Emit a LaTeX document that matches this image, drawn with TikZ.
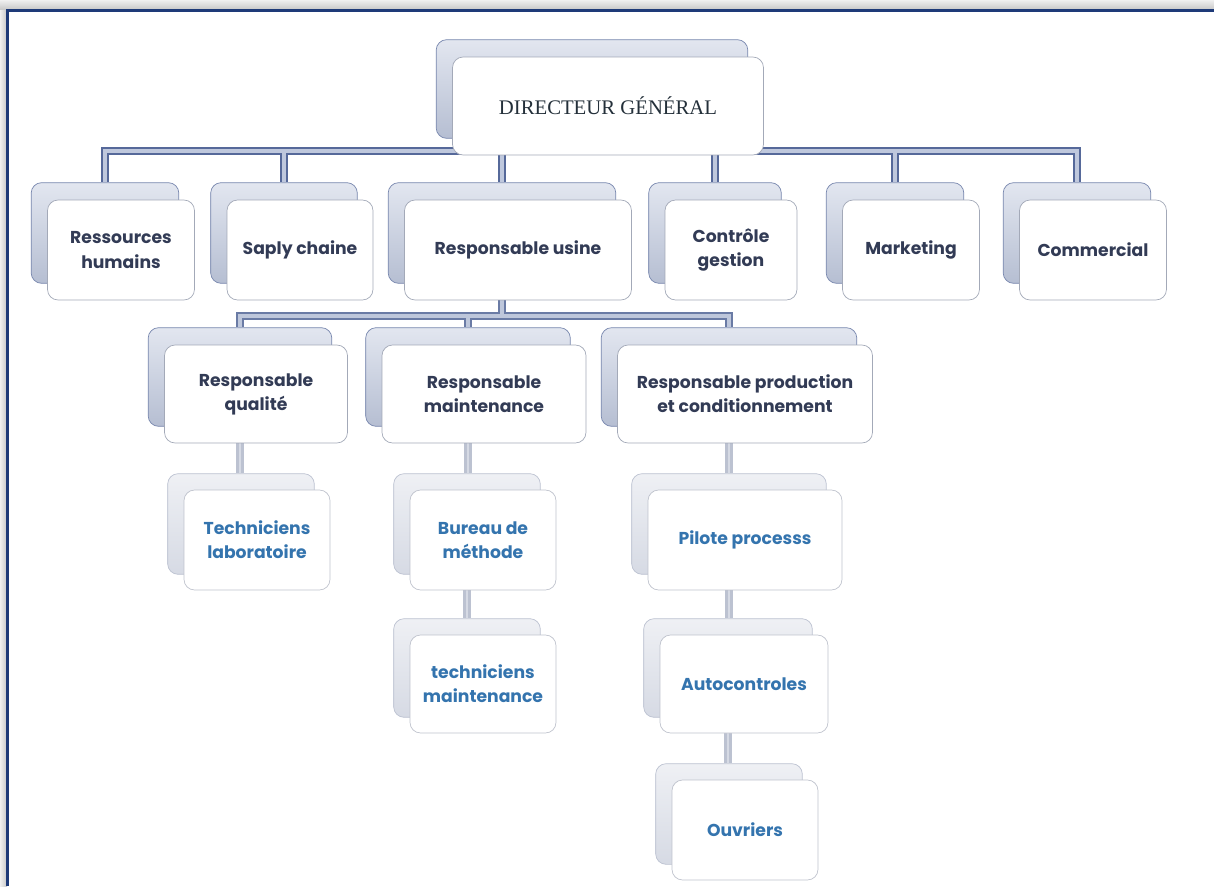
\documentclass[tikz,border=0pt]{standalone}
\usepackage{fontspec}
\setmainfont{Liberation Serif}
\setsansfont{Poppins}
\usetikzlibrary{positioning,fit,calc,backgrounds}
\definecolor{orgnavy}{HTML}{323B55}
\definecolor{orgdark}{HTML}{24303A}
\definecolor{orgblue}{HTML}{3474AE}
\definecolor{orgframe}{HTML}{1E3A78}
\definecolor{orgborder}{HTML}{A3A9B8}
\definecolor{orgedge}{HTML}{56699A}
\definecolor{orgfill}{HTML}{BFC8DD}
\definecolor{orgsoft}{HTML}{BCC2D1}
\definecolor{orgsoftin}{HTML}{D6DAE4}
\pgfdeclarelayer{lines}
\pgfsetlayers{lines,background,main}

\begin{document}
\begin{tikzpicture}[x=0.02cm,y=-0.02cm,
  orgbox/.style={draw=orgborder,fill=white,rounded corners=6pt,align=center,inner sep=2pt},
  headbox/.style={orgbox,font=\rmfamily\fontsize{11.8pt}{14pt}\selectfont,text=orgdark},
  unitbox/.style={orgbox,font=\sffamily\bfseries\fontsize{9.8pt}{13.7pt}\selectfont,
    text=orgnavy,minimum height=2cm},
  staffbox/.style={orgbox,draw=orgborder!70,font=\sffamily\bfseries\fontsize{9.8pt}{13.7pt}\selectfont,
    text=orgblue,minimum height=2cm},
  backbox/.style={draw=orgedge!80,rounded corners=6pt,top color=orgfill!45,bottom color=orgfill!95!black,inner sep=0pt},
  backsoft/.style={draw=orgsoft,rounded corners=6pt,top color=orgsoftin!40,bottom color=orgsoftin,inner sep=0pt}
]
  \useasboundingbox (0,0) rectangle (1214,886);

  % frame and its shadow
  \fill[top color=gray!12,bottom color=gray!45] (0,0) rectangle (1214,10);
  \fill[left color=gray!12,right color=gray!45] (0,10) rectangle (7,886);
  \draw[orgframe,line width=1.5pt] (1214,10.5) -- (7.5,10.5) -- (7.5,886);

  % top
  \node[headbox,minimum width=6.22cm,minimum height=1.96cm] (dg) at (608,106) {DIRECTEUR GÉNÉRAL};

  % level 1
  \node[unitbox,minimum width=2.94cm] (rh) at (121,250) {Ressources\\humains};
  \node[unitbox,minimum width=2.92cm] (sc) at (300,250) {Saply chaine};
  \node[unitbox,minimum width=4.54cm] (ru) at (518,250) {Responsable usine};
  \node[unitbox,minimum width=2.64cm] (cg) at (731,250) {Contrôle\\gestion};
  \node[unitbox,minimum width=2.74cm] (mk) at (911,250) {Marketing};
  \node[unitbox,minimum width=2.94cm] (cm) at (1093,250) {Commercial};

  % level 2
  \node[unitbox,minimum width=3.66cm,minimum height=1.96cm] (rq) at (256,394) {Responsable\\qualité};
  \node[unitbox,minimum width=4.08cm,minimum height=1.96cm] (rm) at (484,394) {Responsable\\maintenance};
  \node[unitbox,minimum width=5.10cm,minimum height=1.96cm] (rp) at (745,394) {Responsable production\\et conditionnement};

  % level 3
  \node[staffbox,minimum width=2.92cm] (tl) at (257,540) {Techniciens\\laboratoire};
  \node[staffbox,minimum width=2.92cm] (bm) at (483,540) {Bureau de\\méthode};
  \node[staffbox,minimum width=2.92cm,minimum height=1.96cm] (tm) at (483,684) {techniciens\\maintenance};
  \node[staffbox,minimum width=3.88cm] (pp) at (745,540) {Pilote processs};
  \node[staffbox,minimum width=3.36cm,minimum height=1.96cm] (ac) at (744,684) {Autocontroles};
  \node[staffbox,minimum width=2.92cm] (ov) at (745,830) {Ouvriers};

  % back plates
  \begin{scope}[on background layer]
    \foreach \n in {dg,rh,sc,ru,cg,mk,cm,rq,rm,rp}
      \node[backbox,fit={($(\n.north west)+(-16,-17)$) ($(\n.south east)+(-16,-17)$)}] (b\n) {};
    \foreach \n in {tl,bm,tm,pp,ac,ov}
      \node[backsoft,fit={($(\n.north west)+(-16,-16)$) ($(\n.south east)+(-16,-16)$)}] (b\n) {};
  \end{scope}

  % connectors
  \begin{pgfonlayer}{lines}
    \foreach \w/\c in {4.6pt/orgedge,2.2pt/orgfill}{
      \foreach \n in {rh,sc,ru,cg,mk,cm}
        \draw[line width=\w,\c] (bdg.south) -- ++(0,12) -| (b\n.north);
      \foreach \n in {rq,rm,rp}
        \draw[line width=\w,\c!80!orgsoft] (bru.south) -- ++(0,32) -| (b\n.north);
    }
    \foreach \a/\b in {rq/tl,rm/bm,bm/tm,rp/pp,pp/ac,ac/ov}{
      \draw[line width=4.6pt,orgsoft] (b\a.south) -- (b\a.south |- b\b.north);
      \draw[line width=1.4pt,orgsoftin] (b\a.south) -- (b\a.south |- b\b.north);
    }
  \end{pgfonlayer}
\end{tikzpicture}
\end{document}
